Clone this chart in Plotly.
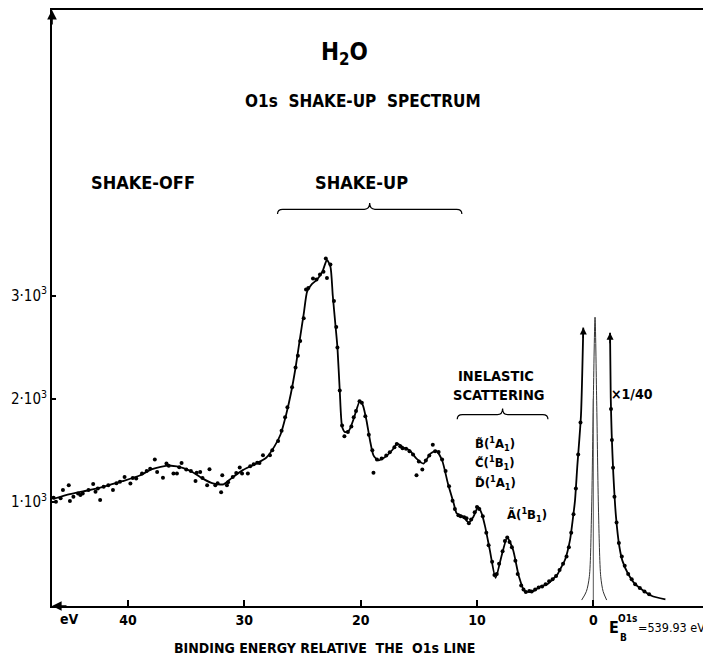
import plotly.graph_objects as go

# ---------------- data (binding energy in eV, counts) ----------------
curve_E = [46.4, 45.0, 43.5, 42.0, 40.5, 39.0, 38.0, 37.2, 36.3, 35.3, 34.4, 33.5, 32.7,
           31.8, 31.1, 30.1, 29.0, 28.1, 27.4, 26.9, 26.4, 26.0, 25.6, 25.2, 24.9, 24.6,
           24.2, 23.8, 23.3, 22.9, 22.6, 22.4, 22.15, 22.0, 21.8, 21.6, 21.35, 21.0, 20.6,
           20.06, 19.8, 19.5, 19.2, 18.9, 18.5, 17.9, 17.3, 16.85, 16.3, 15.8, 15.2, 14.6,
           14.0, 13.5, 13.0, 12.5, 12.0, 11.75, 11.2, 10.7, 10.3, 9.9, 9.6, 9.3, 8.9, 8.4,
           7.9, 7.4, 6.9, 6.4, 5.9, 5.2, 4.6, 4.0, 3.1, 2.87, 2.43, 2.0, 1.77, 1.57, 1.38,
           1.06, 0.86]
curve_C = [1030, 1075, 1110, 1150, 1200, 1255, 1315, 1340, 1350, 1330, 1285, 1220, 1178,
           1170, 1230, 1310, 1370, 1430, 1540, 1650, 1850, 2050, 2300, 2600, 2820, 3040,
           3110, 3150, 3230, 3345, 3280, 3000, 2690, 2500, 2080, 1730, 1676, 1692, 1805,
           1982, 1933, 1789, 1596, 1451, 1403, 1435, 1500, 1564, 1525, 1500, 1419, 1371,
           1468, 1495, 1403, 1178, 985, 889, 857, 800, 857, 950, 889, 760, 535, 262,
           471, 654, 535, 278, 133, 133, 177, 198, 294, 342, 439, 632, 824, 1017, 1338,
           1837, 2689]

wing_E = [-1.44, -1.5, -1.58, -1.72, -1.95, -2.24, -2.5, -3.0, -3.5, -4.0, -5.0, -6.2]
wing_C = [2640, 2013, 1661, 1275, 856, 567, 430, 300, 215, 165, 90, 55]

# main O1s line, scaled x1/40
main_E = [1.0, 0.6, 0.34, 0.15, 0.0, -0.15, -0.29, -0.45, -0.64, -0.85, -1.15]
main_C = [48, 130, 275, 900, 1980, 2790, 1980, 900, 275, 130, 48]

dots_E = [46.2, 45.8, 45.6, 45.1, 45.0, 44.7, 44.1, 43.9, 43.4, 43.0, 42.8, 42.4, 42.1,
          41.7, 41.3, 40.7, 40.3, 39.8, 39.3, 38.8, 38.4, 37.7, 37.5, 37.0, 36.7, 36.1,
          35.8, 35.4, 35.0, 34.2, 34.1, 33.8, 33.2, 33.0, 32.5, 32.0, 31.9, 31.5, 31.0,
          30.4, 30.2, 29.7, 29.2, 28.7, 28.4, 27.8,
          46.4, 44.3, 42.6, 41.0, 39.6, 38.1, 36.5, 35.6, 34.6, 33.6, 32.3, 31.4, 30.7,
          29.5, 28.9, 27.6, 27.1,
          26.8, 26.5, 26.3, 25.9, 25.6, 25.4, 25.2, 24.9, 24.7, 24.5, 24.1, 23.8, 23.5,
          23.2, 23.0, 22.9, 22.6, 22.3, 22.1, 22.0, 21.8, 21.6, 21.4, 21.1, 20.8, 20.6,
          20.4, 20.1, 19.9, 19.6, 19.3, 19.0, 18.9, 18.6, 18.2, 17.8, 17.5, 17.1, 16.9,
          16.6, 16.4, 16.1, 15.8, 15.5, 15.2, 15.0, 14.7, 14.4, 14.1, 13.8, 13.6, 13.3,
          13.0, 12.7, 12.4, 12.1, 11.9, 11.6, 11.4, 11.1, 10.9, 10.7, 10.5, 10.2, 10.0,
          9.8, 9.5, 9.2, 9.0, 8.7, 8.5, 8.3, 8.1, 7.8, 7.6, 7.4, 7.2, 7.0, 6.7, 6.5,
          6.2, 6.0, 5.8, 5.5, 5.3, 5.0, 4.7, 4.4, 4.1, 3.8, 3.5, 3.2, 2.9, 2.6, 2.3,
          2.1, 1.9, 1.7, 1.5, 1.3, 1.1,
          -1.52, -1.6, -1.7, -1.82, -2.0, -2.2, -2.45, -2.7, -3.0, -3.3, -3.6, -4.0,
          -4.4, -4.8]
dots_C = [1001, 1034, 1114, 1162, 1008, 1049, 1066, 1082, 1114, 1172, 1097, 1017, 1146,
          1162, 1114, 1194, 1242, 1178, 1227, 1275, 1300, 1410, 1290, 1233, 1371, 1275,
          1275, 1377, 1313, 1203, 1281, 1290, 1162, 1316, 1162, 1092, 1258, 1162, 1242,
          1333, 1275, 1275, 1364, 1377, 1451, 1451,
          1040, 1080, 1130, 1180, 1230, 1320, 1350, 1335, 1300, 1230, 1180, 1190, 1280,
          1345, 1380, 1500, 1590,
          1690, 1821, 1917, 2110, 2303, 2416, 2560, 2779, 3059, 3074, 3165, 3155, 3204,
          3230, 3358, 3171, 3300, 2946, 2695, 2496, 2080, 1740, 1635, 1676, 1730, 1821,
          1880, 1975, 1960, 1830, 1650, 1500, 1281, 1410, 1420, 1450, 1480, 1530, 1560,
          1540, 1520, 1515, 1490, 1460, 1258, 1390, 1313, 1400, 1450, 1554, 1490, 1483,
          1410, 1300, 1150, 1010, 930, 870, 860, 850, 840, 793, 830, 900, 950,
          930, 860, 700, 580, 420, 290, 300, 400, 520, 620, 654, 610, 560, 430, 300,
          190, 150, 125, 135, 130, 150, 170, 180, 200, 230, 250, 280, 340, 400, 470,
          560, 700, 880, 1130, 1460, 1770,
          1900, 1600, 1330, 1050, 800, 600, 470, 380, 300, 250, 200, 165,
          130, 105]

x_tickvals = [40, 30, 20, 10, 0]
x_ticktext = ["40", "30", "20", "10", "0"]
y_tickvals = [1000, 2000, 3000]
y_ticktext = ["1·10<sup>3</sup>", "2·10<sup>3</sup>", "3·10<sup>3</sup>"]

shake_up_span = (27.15, 11.3)
inelastic_span = (11.7, 3.9)

FONT = "DejaVu Sans Condensed, DejaVu Sans"
INK = "#000000"

fig = go.Figure()
fig.add_trace(go.Scatter(x=curve_E, y=curve_C, mode="lines",
                         line=dict(color=INK, width=1.8, shape="spline", smoothing=0.6),
                         showlegend=False, hoverinfo="skip"))
fig.add_trace(go.Scatter(x=wing_E, y=wing_C, mode="lines",
                         line=dict(color=INK, width=1.8, shape="spline", smoothing=0.6),
                         showlegend=False, hoverinfo="skip"))
fig.add_trace(go.Scatter(x=main_E, y=main_C, mode="lines",
                         line=dict(color="#333333", width=1, shape="spline", smoothing=0.8),
                         showlegend=False, hoverinfo="skip"))
fig.add_trace(go.Scatter(x=[0, 0], y=[0, 2000], mode="lines",
                         line=dict(color="#555555", width=1),
                         showlegend=False, hoverinfo="skip"))
fig.add_trace(go.Scatter(x=dots_E, y=dots_C, mode="markers",
                         marker=dict(color=INK, size=4),
                         showlegend=False, hoverinfo="skip"))


def brace(e_left, e_right, y, hook=45, tip=60, w=0.45):
    m = (e_left + e_right) / 2
    return (f"M {e_left},{y - hook} Q {e_left},{y} {e_left - w},{y} "
            f"L {m + w},{y} Q {m},{y} {m},{y + tip} "
            f"Q {m},{y} {m - w},{y} L {e_right + w},{y} Q {e_right},{y} {e_right},{y - hook}")


fig.add_shape(type="path", path=brace(*shake_up_span, 3836), xref="x", yref="y",
              line=dict(color=INK, width=1.2))
fig.add_shape(type="path", path=brace(*inelastic_span, 1845), xref="x", yref="y",
              line=dict(color=INK, width=1.2))

ann = []


def label(x, y, text, size, xanchor="center", ref="data", weight="bold"):
    xr, yr = ("x", "y") if ref == "data" else ("paper", "paper")
    ann.append(dict(x=x, y=y, xref=xr, yref=yr, text=text, showarrow=False,
                    font=dict(family=FONT, size=size, color=INK, weight=weight),
                    xanchor=xanchor, yanchor="middle"))


label(21.35, 5343, "H<sub>2</sub>O", 24)
label(19.8, 4889, "O1s  SHAKE-UP  SPECTRUM", 17)
label(38.7, 4097, "SHAKE-OFF", 18)
label(19.96, 4097, "SHAKE-UP", 18)
label(8.37, 2222, "INELASTIC", 14.5)
label(8.1, 2039, "SCATTERING", 14.5)
label(10.35, 1565, "B\u0303(<sup>1</sup>A<sub>1</sub>)", 13, "left")
label(10.35, 1372, "C\u0303(<sup>1</sup>B<sub>1</sub>)", 13, "left")
label(10.35, 1179, "D\u0303(<sup>1</sup>A<sub>1</sub>)", 13, "left")
label(7.6, 870, "A\u0303(<sup>1</sup>B<sub>1</sub>)", 13, "left")
label(-1.35, 2048, "×1/40", 14, "left")

# texts below the axis (paper coordinates)
label(0.0273, -0.0217, "eV", 14, ref="paper")
label(0.8521, -0.0368, "E", 16, ref="paper")
label(0.8740, -0.0210, "O1s", 10, ref="paper")
label(0.8665, -0.0525, "B", 10, ref="paper")
label(0.8862, -0.0368, "=539.93 eV", 12.5, "left", ref="paper", weight="normal")
label(0.414, -0.0702, "BINDING ENERGY RELATIVE  THE  O1s LINE", 14, ref="paper")

# axis arrowheads
ann.append(dict(x=0, y=1, xref="paper", yref="paper", ax=0, ay=16, text="",
                showarrow=True, arrowhead=2, arrowsize=1.2, arrowwidth=1.6, arrowcolor=INK))
ann.append(dict(x=0, y=0, xref="paper", yref="paper", ax=16, ay=0, text="",
                showarrow=True, arrowhead=2, arrowsize=1.2, arrowwidth=1.6, arrowcolor=INK))
# off-scale arrowheads of the unscaled main line wings
ann.append(dict(x=curve_E[-1], y=curve_C[-1], xref="x", yref="y", ax=0, ay=12, text="",
                showarrow=True, arrowhead=2, arrowsize=1, arrowwidth=1.4, arrowcolor=INK))
ann.append(dict(x=wing_E[0], y=wing_C[0], xref="x", yref="y", ax=0, ay=12, text="",
                showarrow=True, arrowhead=2, arrowsize=1, arrowwidth=1.4, arrowcolor=INK))

# page body has an 8px margin: figure is 703x652 so the plot area sits at x 52-711, y 8-606
fig.update_layout(
    width=703, height=652,
    margin=dict(l=44, r=0, t=0, b=54),
    paper_bgcolor="white", plot_bgcolor="white",
    font=dict(family=FONT, size=14, color=INK, weight="bold"),
    annotations=ann,
    showlegend=False,
)
fig.update_xaxes(range=[46.54, -10.12], showgrid=False, zeroline=False,
                 showline=True, linecolor=INK, linewidth=2, mirror=True,
                 ticks="inside", ticklen=6, tickwidth=1.5, tickcolor=INK,
                 tickvals=x_tickvals, ticktext=x_ticktext,
                 tickfont=dict(family=FONT, size=14, color=INK, weight="bold"))
fig.update_yaxes(range=[-9.7, 5768], showgrid=False, zeroline=False,
                 showline=True, linecolor=INK, linewidth=2,
                 ticks="inside", ticklen=4, tickwidth=1.5, tickcolor=INK,
                 tickvals=y_tickvals, ticktext=y_ticktext,
                 tickfont=dict(family=FONT, size=15, color=INK, weight="normal"))

fig.write_html("out.html")
